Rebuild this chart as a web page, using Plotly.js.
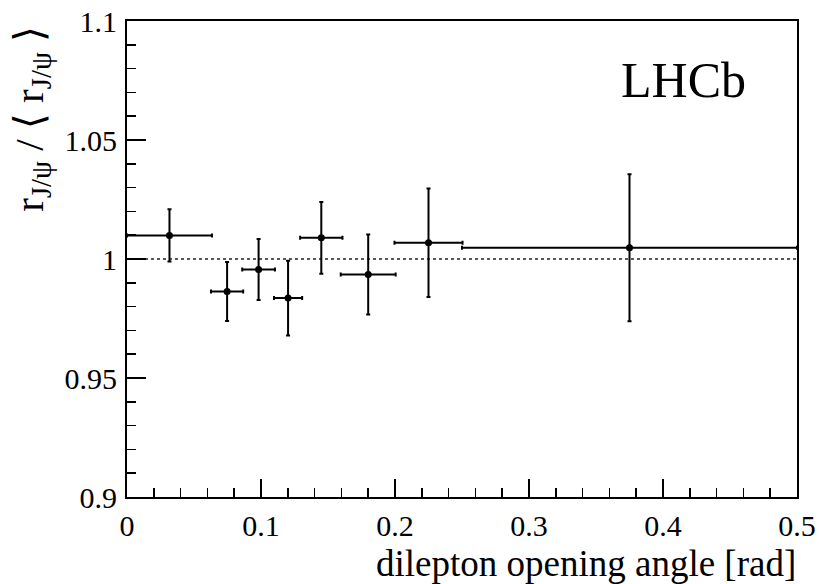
<!DOCTYPE html>
<html>
<head>
<meta charset="utf-8">
<script src="https://cdn.plot.ly/plotly-3.0.1.min.js"></script>
<style>html,body{margin:0;padding:0;background:#fff;}#chart{width:819px;height:584px;}</style>
</head>
<body>
<div id="chart"></div>
<script>
// Bin centres (dilepton opening angle, rad)
const angle = [0.0317, 0.0747, 0.0982, 0.1202, 0.1450, 0.1800, 0.2250, 0.3750];
// Half bin widths
const angleHalfWidth = [0.0317, 0.0120, 0.0122, 0.0105, 0.0158, 0.0205, 0.0254, 0.1250];
// r_J/psi / <r_J/psi>
const ratio = [1.0099, 0.9863, 0.9956, 0.9836, 1.0089, 0.9935, 1.0068, 1.0047];
// Uncertainties
const ratioErr = [0.0110, 0.0124, 0.0128, 0.0157, 0.0151, 0.0168, 0.0228, 0.0309];
// Reference line
const refX = [0, 0.5];
const refY = [1, 1];

const xTickVals = [0, 0.1, 0.2, 0.3, 0.4, 0.5];
const xTickText = ["0", "0.1", "0.2", "0.3", "0.4", "0.5"];
const yTickVals = [0.9, 0.95, 1, 1.05, 1.1];
const yTickText = ["0.9", "0.95", "1", "1.05", "1.1"];

const serif = "'Liberation Serif', 'DejaVu Serif', serif";

const traces = [
  {
    x: refX, y: refY, type: "scatter", mode: "lines",
    line: {color: "#222", width: 1.6, dash: "dot"},
    hoverinfo: "skip", showlegend: false
  },
  {
    x: angle, y: ratio, type: "scatter", mode: "markers",
    marker: {color: "#000", size: 7, symbol: "circle"},
    error_x: {type: "data", array: angleHalfWidth, visible: true, color: "#000", thickness: 2, width: 2},
    error_y: {type: "data", array: ratioErr, visible: true, color: "#000", thickness: 2, width: 2},
    cliponaxis: false,
    showlegend: false
  }
];

const layout = {
  width: 819, height: 584,
  margin: {l: 126.5, r: 22, t: 21, b: 87},
  paper_bgcolor: "#fff", plot_bgcolor: "#fff",
  font: {family: serif, color: "#000"},
  showlegend: false,
  xaxis: {
    range: [0, 0.5], tickvals: xTickVals, ticktext: xTickText,
    ticks: "inside", ticklen: 18, tickwidth: 1.5, tickcolor: "#000",
    minor: {dtick: 0.02, ticks: "inside", ticklen: 9, tickwidth: 1.5, tickcolor: "#000", showgrid: false},
    showline: true, linecolor: "#000", linewidth: 2, mirror: true,
    showgrid: false, zeroline: false,
    tickfont: {family: serif, size: 30, color: "#000"},
    ticklabelstandoff: 1
  },
  yaxis: {
    range: [0.9, 1.1], tickvals: yTickVals, ticktext: yTickText,
    ticks: "inside", ticklen: 19, tickwidth: 1.5, tickcolor: "#000",
    minor: {dtick: 0.01, ticks: "inside", ticklen: 9, tickwidth: 1.5, tickcolor: "#000", showgrid: false},
    showline: true, linecolor: "#000", linewidth: 2, mirror: true,
    showgrid: false, zeroline: false,
    tickfont: {family: serif, size: 30, color: "#000"},
    ticklabelstandoff: 2
  },
  annotations: [
    {
      text: "dilepton opening angle [rad]",
      xref: "paper", yref: "paper", x: 1.002, y: -0.139,
      xanchor: "right", yanchor: "middle", showarrow: false,
      font: {family: serif, size: 37, color: "#000"}
    },
    {
      text: "r<sub>J/ψ</sub> / ⟨ r<sub>J/ψ</sub> ⟩",
      xref: "paper", yref: "paper", x: -0.143, y: 0.795,
      xanchor: "center", yanchor: "middle", textangle: -90, showarrow: false,
      font: {family: serif, size: 41, color: "#000"}
    },
    {
      text: "LHCb",
      xref: "paper", yref: "paper", x: 0.830, y: 0.876,
      xanchor: "center", yanchor: "middle", showarrow: false,
      font: {family: serif, size: 50, color: "#000"}
    }
  ]
};

Plotly.newPlot("chart", traces, layout, {displayModeBar: false, staticPlot: true});
</script>
</body>
</html>
